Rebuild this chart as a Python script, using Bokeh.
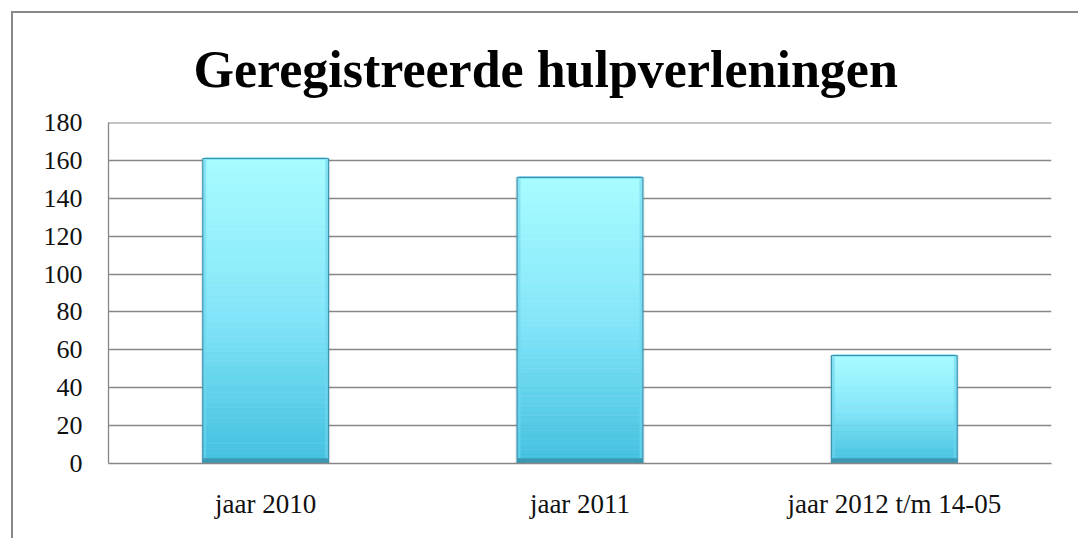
from bokeh.plotting import figure
from bokeh.models import FixedTicker, Range1d, Span
from bokeh.embed import file_html
from bokeh.resources import INLINE
import numpy as np

# ---- data ----
categories = ["jaar 2010", "jaar 2011", "jaar 2012 t/m 14-05"]
values = [161, 151, 57]
y_ticks = [0, 20, 40, 60, 80, 100, 120, 140, 160, 180]

TITLE = "Geregistreerde hulpverleningen"
GRID = "#878787"
FONT = "Liberation Serif"

p = figure(x_range=categories, y_range=Range1d(0, 180),
           width=1067, height=527, output_backend="svg", toolbar_location=None,
           min_border_left=95, min_border_right=29, min_border_top=109, min_border_bottom=77)
p.styles = {"margin-left": "11px", "margin-top": "11px",
            "border-left": "2px solid #888888", "border-top": "2px solid #888888"}

p.title.text = TITLE
p.title.align = "left"
p.title.offset = 85
p.title.text_font = FONT
p.title.text_font_style = "bold"
p.title.text_font_size = "52px"
p.title.text_color = "#000000"
p.title.text_line_height = 0.8
p.title.standoff = 50
p.outline_line_color = None
p.background_fill_color = "white"
p.border_fill_color = "white"

# grid
p.xgrid.grid_line_color = None
p.ygrid.grid_line_color = GRID
p.ygrid.grid_line_width = 1.3
p.yaxis.ticker = FixedTicker(ticks=y_ticks)
p.add_layout(Span(location=y_ticks[-1], dimension="width", line_color=GRID, line_width=2))

for ax in (p.xaxis, p.yaxis):
    ax.axis_line_color = GRID
    ax.axis_line_width = 1.3
    ax.major_tick_line_color = None
    ax.minor_tick_line_color = None
    ax.major_label_text_font = FONT
    ax.major_label_text_color = "#111111"
p.yaxis.major_label_text_font_size = "26px"
p.xaxis.major_label_text_font_size = "27px"
p.yaxis.major_label_standoff = 20
p.xaxis.major_label_standoff = 19

# gradient bars (bar colour from bottom to top)
N = 60
bottom_rgb = np.array([0x42, 0xC0, 0xE0])
mid_rgb = np.array([0x84, 0xE6, 0xF9])
top_rgb = np.array([0xA8, 0xFC, 0xFF])
W = 0.4

def col(t):
    if t < 0.5:
        c = bottom_rgb + (mid_rgb - bottom_rgb) * (t / 0.5)
    else:
        c = mid_rgb + (top_rgb - mid_rgb) * ((t - 0.5) / 0.5)
    return "#%02x%02x%02x" % tuple(int(round(v)) for v in c)

xs, bots, tops, cols = [], [], [], []
for cat, v in zip(categories, values):
    for i in range(N):
        xs.append(cat)
        bots.append(v * i / N)
        tops.append(v * (i + 1) / N)
        cols.append(col((i + 0.5) / N))

# soft shadow
p.vbar(x=categories, top=values, width=W + 0.012,
       fill_color="#000000", fill_alpha=0.08, line_color=None)
p.vbar(x=xs, bottom=bots, top=tops, width=W, fill_color=cols, line_color=cols, line_width=0.5)

# bevel edges
p.vbar(x=categories, top=values, width=W - 0.012, fill_color=None,
       line_color="#6fd6ee", line_width=3, line_alpha=0.6)
p.vbar(x=categories, top=[2.8] * len(values), width=W, fill_color="#3c97b3",
       line_color=None)
p.vbar(x=categories, top=values, width=W, fill_color=None,
       line_color="#3a95b0", line_width=1.2)

html = file_html(p, INLINE)
open("out.html", "w").write(html)
